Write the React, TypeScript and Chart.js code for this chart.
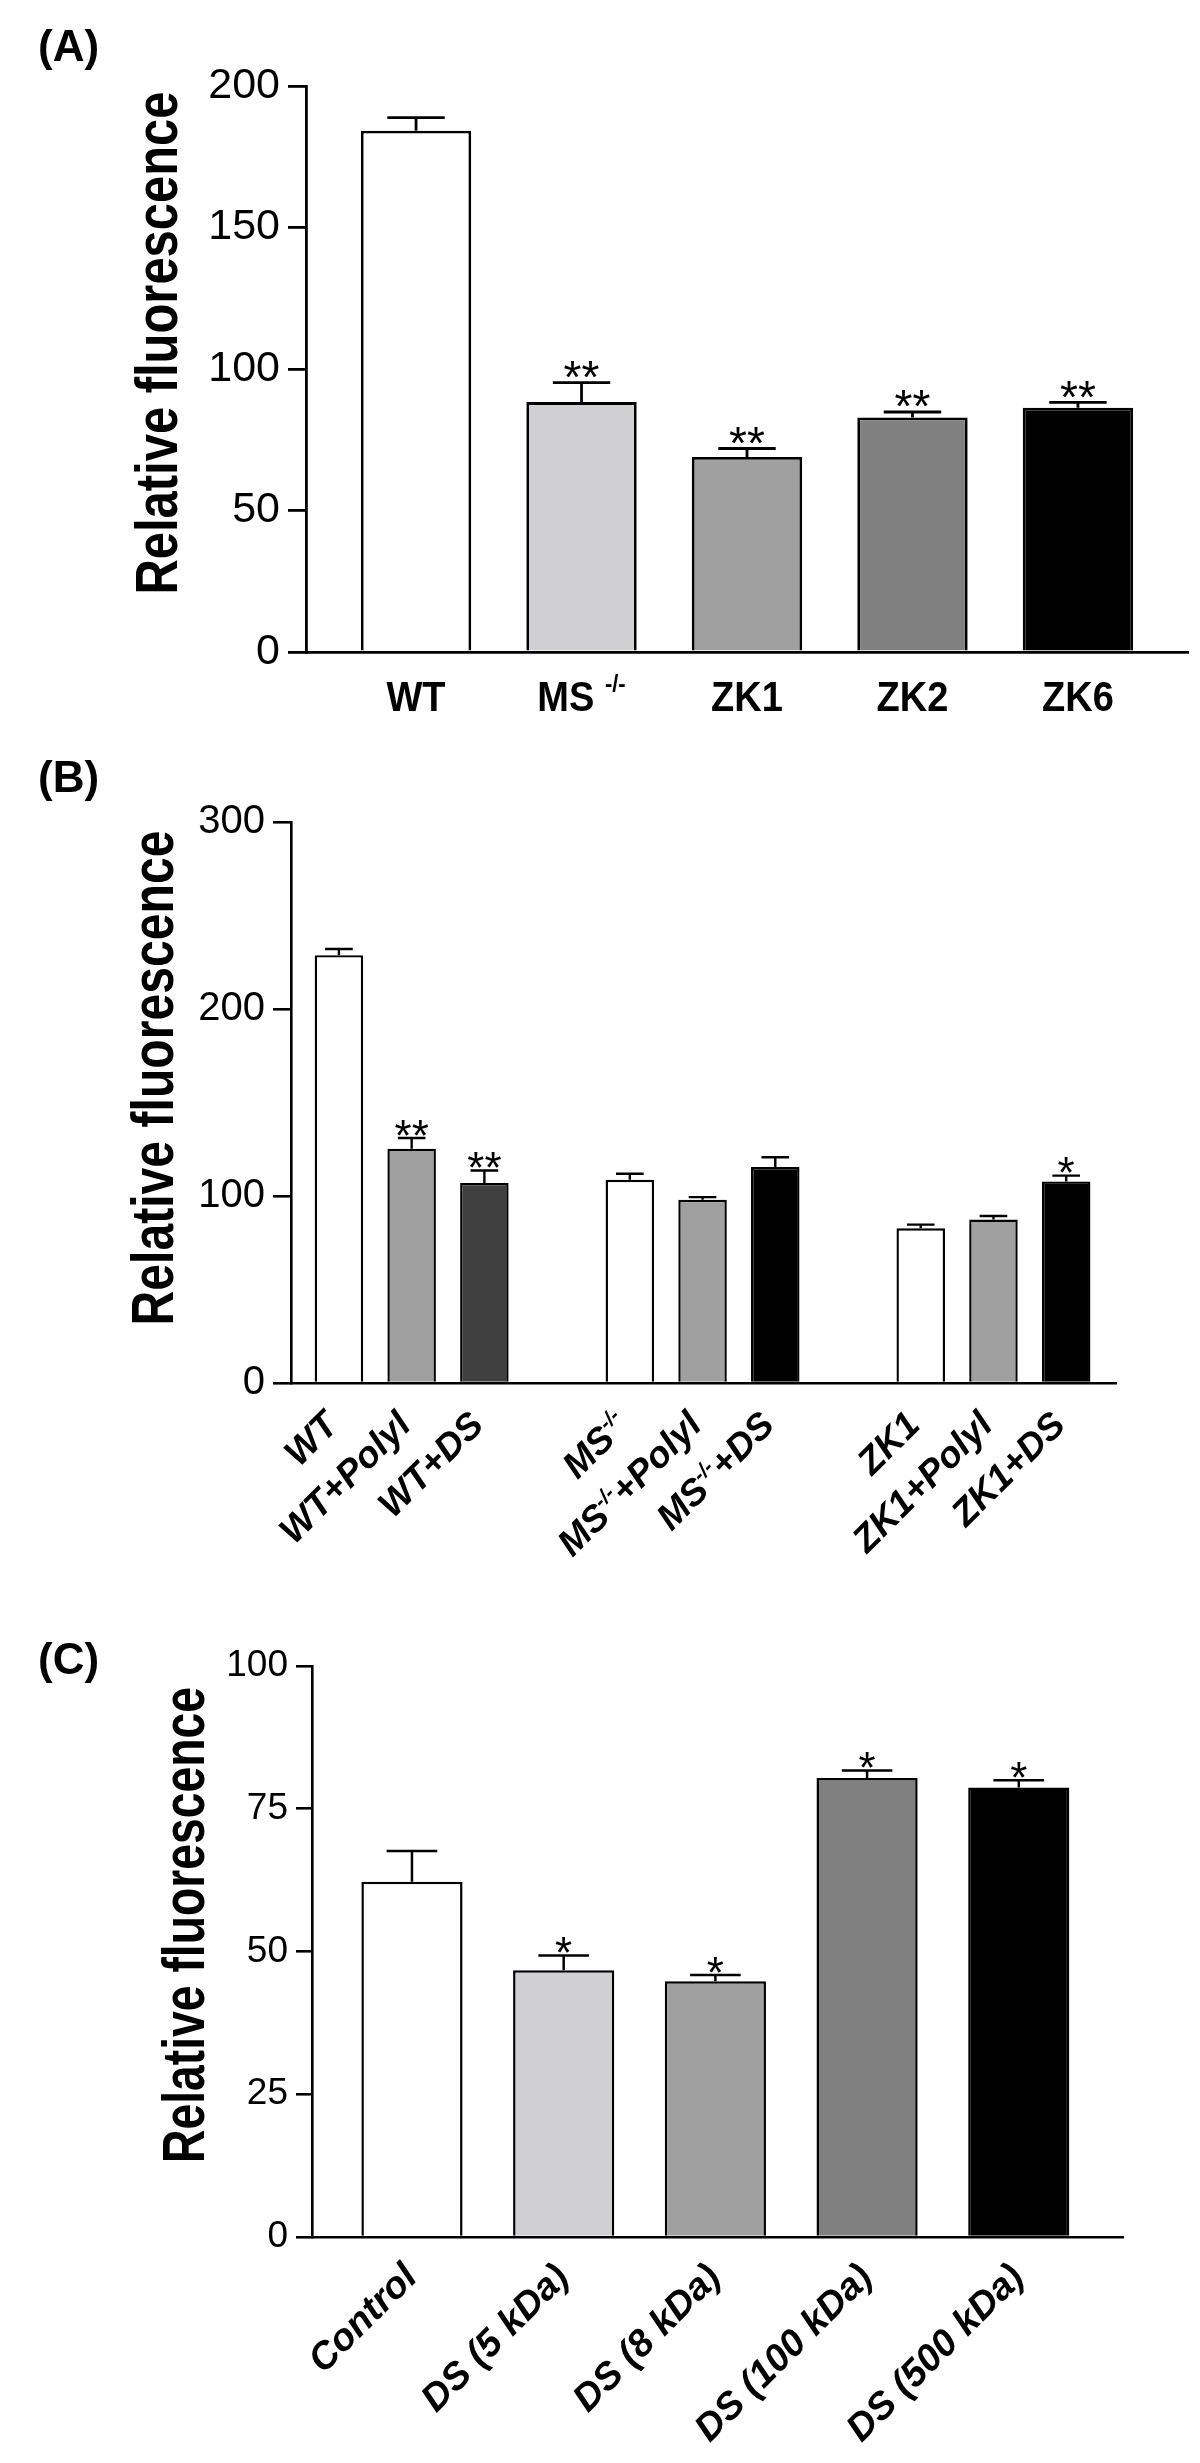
import React, { useEffect, useRef } from 'react';
import { Chart, registerables } from 'chart.js';

Chart.register(...registerables);

const FONT = '"Liberation Sans", Arial, Helvetica, sans-serif';
const TITLE = 'Relative fluorescence';

// ---------- Panel A ----------
const A_LABELS = ['WT', 'MS ^-/-', 'ZK1', 'ZK2', 'ZK6'];
const A_VALUES = [184.2, 88.3, 68.9, 82.9, 86.3];
const A_SEM = [4.6, 6.9, 3.0, 1.9, 1.9];
const A_SIG = ['', '**', '**', '**', '**'];
const A_COLORS = ['#ffffff', '#d0d0d2', '#a0a0a0', '#808080', '#000000'];
const A_TICKS = [0, 50, 100, 150, 200];

// ---------- Panel B ----------
const B_GROUP_LABELS = [
  ['WT', 'WT+Polyl', 'WT+DS'],
  ['MS^-/-', 'MS^-/-^+Polyl', 'MS^-/-^+DS'],
  ['ZK1', 'ZK1+Polyl', 'ZK1+DS'],
];
const B_GROUP_VALUES = [
  [228.8, 125.3, 107.0],
  [108.7, 98.0, 115.5],
  [82.7, 87.4, 107.8],
];
const B_GROUP_SEM = [
  [3.3, 5.7, 6.6],
  [3.2, 1.4, 5.2],
  [2.0, 1.9, 3.1],
];
const B_GROUP_SIG = [
  ['', '**', '**'],
  ['', '', ''],
  ['', '', '*'],
];
const B_GROUP_COLORS = [
  ['#ffffff', '#a0a0a0', '#404040'],
  ['#ffffff', '#a0a0a0', '#000000'],
  ['#ffffff', '#a0a0a0', '#000000'],
];
const B_TICKS = [0, 100, 200, 300];

// ---------- Panel C ----------
const C_LABELS = ['Control', 'DS (5 kDa)', 'DS (8 kDa)', 'DS (100 kDa)', 'DS (500 kDa)'];
const C_VALUES = [62.2, 46.7, 44.8, 80.4, 78.7];
const C_SEM = [5.4, 2.6, 1.1, 1.3, 1.3];
const C_SIG = ['', '*', '*', '*', '*'];
const C_COLORS = ['#ffffff', '#d0d0d2', '#a0a0a0', '#808080', '#000000'];
const C_TICKS = [0, 25, 50, 75, 100];

type Panel = {
  letter: string;
  top: number;
  height: number;
  letterBase: number;
  plotLeft: number;
  plotTop: number;
  plotRight: number;
  plotBottom: number;
  xMin: number;
  xMax: number;
  yMax: number;
  ticks: number[];
  tickFont: number;
  tickLen: number;
  axisW: number;
  barW: number;
  capRatio: number;
  starGap: number;
  starFont: number;
  titleX: number;
  titleCY: number;
  titleLen: number;
  titleFont: number;
  labels: string[];
  xs: number[];
  values: number[];
  sem: number[];
  sig: string[];
  colors: string[];
  labelMode: 'flat' | 'rot';
  labelFont: number;
  supFont: number;
  supRaise: number;
  labelDX: number;
  labelDY: number;
  labelStretch: number;
  italic: boolean;
};

function flat<T>(a: T[][]): T[] {
  return a.reduce((acc, g) => acc.concat(g), [] as T[]);
}

const bXs = flat(B_GROUP_VALUES.map((g, gi) => g.map((_, i) => gi * (g.length + 1) + i)));

const PANELS: Panel[] = [
  {
    letter: '(A)', top: 0, height: 760, letterBase: 61,
    plotLeft: 306, plotTop: 86, plotRight: 1188, plotBottom: 652,
    xMin: -0.665, xMax: 4.665, yMax: 200, ticks: A_TICKS, tickFont: 43, tickLen: 18,
    axisW: 2.8, barW: 2.8, capRatio: 0.52, starGap: 8, starFont: 46,
    titleX: 177, titleCY: 343, titleLen: 503, titleFont: 59,
    labels: A_LABELS, xs: A_VALUES.map((_, i) => i), values: A_VALUES, sem: A_SEM, sig: A_SIG, colors: A_COLORS,
    labelMode: 'flat', labelFont: 38, supFont: 22, supRaise: 17, labelDX: 0, labelDY: 59, labelStretch: 1.12,
    italic: false,
  },
  {
    letter: '(B)', top: 760, height: 860, letterBase: 792,
    plotLeft: 291, plotTop: 822, plotRight: 1116, plotBottom: 1383,
    xMin: -0.659, xMax: 10.685, yMax: 300, ticks: B_TICKS, tickFont: 40, tickLen: 18,
    axisW: 2.6, barW: 2.4, capRatio: 0.57, starGap: 5, starFont: 44,
    titleX: 173, titleCY: 1078, titleLen: 495, titleFont: 59,
    labels: flat(B_GROUP_LABELS), xs: bXs, values: flat(B_GROUP_VALUES), sem: flat(B_GROUP_SEM),
    sig: flat(B_GROUP_SIG), colors: flat(B_GROUP_COLORS),
    labelMode: 'rot', labelFont: 37, supFont: 21, supRaise: 14, labelDX: 1, labelDY: 44, labelStretch: 1,
    italic: true,
  },
  {
    letter: '(C)', top: 1620, height: 843, letterBase: 1674,
    plotLeft: 312, plotTop: 1666, plotRight: 1123, plotBottom: 2237,
    xMin: -0.659, xMax: 4.687, yMax: 100, ticks: C_TICKS, tickFont: 37, tickLen: 16,
    axisW: 2.6, barW: 2.5, capRatio: 0.5, starGap: 5, starFont: 44,
    titleX: 204, titleCY: 1925, titleLen: 476, titleFont: 59,
    labels: C_LABELS, xs: C_VALUES.map((_, i) => i), values: C_VALUES, sem: C_SEM, sig: C_SIG, colors: C_COLORS,
    labelMode: 'rot', labelFont: 38, supFont: 22, supRaise: 15, labelDX: 7, labelDY: 42, labelStretch: 1,
    italic: true,
  },
];

function parts(label: string) {
  return label.split('^').map((t, i) => ({ t, sup: i % 2 === 1 }));
}

function PanelChart({ p }: { p: Panel }) {
  const ref = useRef<HTMLCanvasElement | null>(null);

  useEffect(() => {
    const canvas = ref.current;
    if (!canvas) return;
    const W = 1200;
    const H = p.height;
    const off = p.top;

    const errPlugin = {
      id: 'errbars' + p.letter,
      afterDatasetsDraw(chart: any) {
        const ctx = chart.ctx as CanvasRenderingContext2D;
        const ys = chart.scales.y;
        const meta = chart.getDatasetMeta(0);
        ctx.save();
        ctx.strokeStyle = '#000';
        ctx.fillStyle = '#000';
        ctx.lineWidth = p.barW;
        meta.data.forEach((bar: any, i: number) => {
          const yTop = bar.y;
          const yErr = ys.getPixelForValue(p.values[i] + p.sem[i]);
          const half = (bar.width * p.capRatio) / 2;
          ctx.beginPath();
          ctx.moveTo(bar.x, yTop);
          ctx.lineTo(bar.x, yErr);
          ctx.moveTo(bar.x - half, yErr);
          ctx.lineTo(bar.x + half, yErr);
          ctx.stroke();
          if (p.sig[i]) {
            const fs = p.starFont;
            ctx.font = `${fs}px ${FONT}`;
            ctx.textAlign = 'center';
            ctx.textBaseline = 'alphabetic';
            ctx.fillText(p.sig[i], bar.x, yErr - p.barW / 2 - p.starGap + 0.43 * fs);
          }
        });
        ctx.restore();
      },
    };

    const textPlugin = {
      id: 'texts' + p.letter,
      afterDraw(chart: any) {
        const ctx = chart.ctx as CanvasRenderingContext2D;
        const xs = chart.scales.x;
        const axisY = chart.chartArea.bottom;
        ctx.save();
        ctx.fillStyle = '#000';
        // panel letter
        ctx.font = `bold 44px ${FONT}`;
        ctx.textAlign = 'left';
        ctx.textBaseline = 'alphabetic';
        ctx.fillText(p.letter, 38, p.letterBase - off);
        // y title
        ctx.save();
        ctx.translate(p.titleX, p.titleCY - off);
        ctx.rotate(-Math.PI / 2);
        ctx.font = `bold ${p.titleFont}px ${FONT}`;
        const tw = ctx.measureText(TITLE).width;
        ctx.scale(p.titleLen / tw, 1);
        ctx.textAlign = 'center';
        ctx.fillText(TITLE, 0, 0);
        ctx.restore();
        // x labels
        const style = p.italic ? 'italic bold' : 'bold';
        p.labels.forEach((lab, i) => {
          const cx = xs.getPixelForValue(p.xs[i]);
          const segs = parts(lab);
          const widths = segs.map((s) => {
            ctx.font = `${style} ${s.sup ? p.supFont : p.labelFont}px ${FONT}`;
            return ctx.measureText(s.t).width;
          });
          const total = widths.reduce((a, b) => a + b, 0);
          ctx.save();
          ctx.textAlign = 'left';
          ctx.textBaseline = 'alphabetic';
          let x0: number;
          if (p.labelMode === 'flat') {
            ctx.translate(cx, axisY + p.labelDY);
            ctx.scale(1, p.labelStretch);
            x0 = -total / 2;
          } else {
            ctx.translate(cx + p.labelDX, axisY + p.labelDY);
            ctx.rotate(-Math.PI / 4);
            x0 = -total;
          }
          segs.forEach((s, k) => {
            ctx.font = `${style} ${s.sup ? p.supFont : p.labelFont}px ${FONT}`;
            ctx.fillText(s.t, x0, s.sup ? -p.supRaise : 0);
            x0 += widths[k];
          });
          ctx.restore();
        });
        ctx.restore();
      },
    };

    const chart = new Chart(canvas, {
      type: 'bar',
      data: {
        datasets: [
          {
            data: p.values.map((v, i) => ({ x: p.xs[i], y: v })),
            backgroundColor: p.colors,
            borderColor: '#000000',
            borderWidth: p.barW,
            borderSkipped: 'start',
            barPercentage: 0.667,
            categoryPercentage: 1,
          } as any,
        ],
      },
      options: {
        animation: false,
        responsive: false,
        maintainAspectRatio: false,
        devicePixelRatio: 1,
        layout: {
          padding: {
            left: 0,
            right: W - p.plotRight,
            top: p.plotTop - off,
            bottom: off + H - p.plotBottom,
          },
        },
        plugins: { legend: { display: false }, tooltip: { enabled: false }, title: { display: false } },
        scales: {
          x: {
            type: 'linear',
            offset: false,
            min: p.xMin,
            max: p.xMax,
            grid: { display: false, offset: false },
            ticks: { display: false },
            border: { display: true, color: '#000', width: p.axisW },
            afterBuildTicks: (s: any) => {
              s.min = p.xMin;
              s.max = p.xMax;
              s.ticks = p.xs.map((v) => ({ value: v }));
            },
            afterFit: (s: any) => {
              s.height = 0;
              s.paddingLeft = 0;
              s.paddingRight = 0;
            },
          },
          y: {
            min: 0,
            max: p.yMax,
            afterBuildTicks: (s: any) => {
              s.ticks = p.ticks.map((v) => ({ value: v }));
            },
            ticks: {
              color: '#000',
              padding: 8,
              font: { family: FONT, size: p.tickFont },
            },
            grid: {
              display: true,
              drawOnChartArea: false,
              drawTicks: true,
              tickLength: p.tickLen,
              color: '#000',
              lineWidth: p.axisW,
            },
            border: { display: true, color: '#000', width: p.axisW },
            afterFit: (s: any) => {
              s.width = p.plotLeft;
            },
          },
        } as any,
      },
      plugins: [errPlugin, textPlugin],
    });
    return () => chart.destroy();
  }, [p]);

  return (
    <canvas
      ref={ref}
      width={1200}
      height={p.height}
      style={{ position: 'absolute', left: 0, top: p.top, width: 1200, height: p.height }}
    />
  );
}

export default function App() {
  return (
    <div style={{ position: 'absolute', left: 0, top: 0, width: 1200, height: 2463, background: '#ffffff' }}>
      {PANELS.map((p) => (
        <PanelChart key={p.letter} p={p} />
      ))}
    </div>
  );
}
